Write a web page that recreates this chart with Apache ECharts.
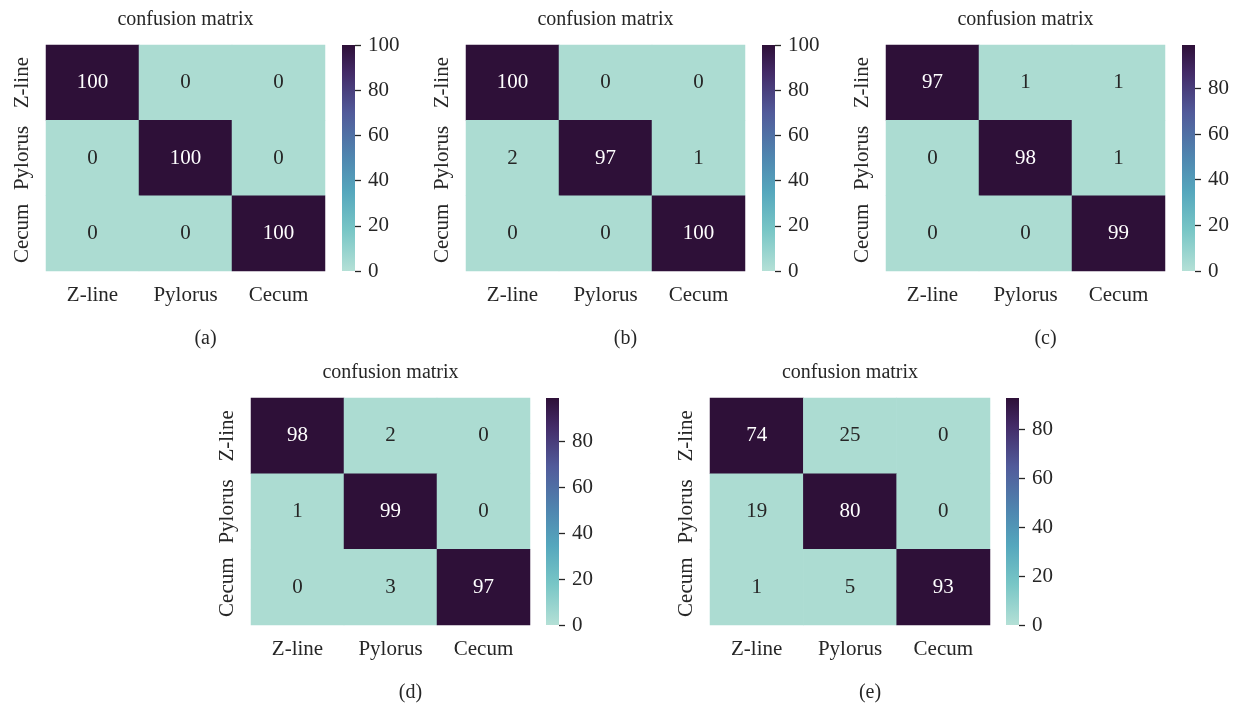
<!DOCTYPE html>
<html><head><meta charset="utf-8">
<script src="https://cdn.jsdelivr.net/npm/echarts@6/dist/echarts.min.js"></script>
<style>html,body{margin:0;padding:0;background:#fff}#c{width:1242px;height:703px}</style>
</head><body><div id="c"></div>
<script>
const categories = ['Z-line', 'Pylorus', 'Cecum'];
const panelLabels = ['(a)', '(b)', '(c)', '(d)', '(e)'];
const titleText = 'confusion matrix';
const colorbarTicks = [0, 20, 40, 60, 80, 100];
// rows = true class (top to bottom), columns = predicted
const matA = [[100, 0, 0], [0, 100, 0], [0, 0, 100]];
const matB = [[100, 0, 0], [2, 97, 1], [0, 0, 100]];
const matC = [[97, 1, 1], [0, 98, 1], [0, 0, 99]];
const matD = [[98, 2, 0], [1, 99, 0], [0, 3, 97]];
const matE = [[74, 25, 0], [19, 80, 0], [1, 5, 93]];
const colorbarMax = [100, 100, 99, 99, 93];

const mats = [matA, matB, matC, matD, matE];
// layout (pixels)
const L = [
  {x: 46, y: 45, w: 279, h: 226, cb: 342},
  {x: 466, y: 45, w: 279, h: 226, cb: 762},
  {x: 886, y: 45, w: 279, h: 226, cb: 1182},
  {x: 251, y: 398, w: 279, h: 227, cb: 546},
  {x: 710, y: 398, w: 280, h: 227, cb: 1006}
];
const DARK = '#2e1038', LIGHT = '#acdcd2';
const FONT = '"Liberation Serif", "DejaVu Serif", serif';
const TXT = '#262626';
const FS = 21;

const grid = [], xAxis = [], yAxis = [], series = [], title = [];
mats.forEach((m, i) => {
  const l = L[i];
  const gi = grid.length;
  grid.push({left: l.x, top: l.y, width: l.w, height: l.h});
  xAxis.push({type: 'category', gridIndex: gi, data: categories, position: 'bottom',
    axisLine: {show: false}, axisTick: {show: false}, splitLine: {show: false},
    axisLabel: {fontFamily: FONT, fontSize: FS, color: TXT, margin: 14, interval: 0, hideOverlap: false}});
  yAxis.push({type: 'category', gridIndex: gi, data: categories, inverse: true,
    axisLine: {show: false}, axisTick: {show: false}, splitLine: {show: false},
    axisLabel: {fontFamily: FONT, fontSize: FS, color: TXT, rotate: 90, margin: 13, interval: 0, hideOverlap: false}});
  const data = [];
  m.forEach((row, r) => row.forEach((v, c) => {
    const dark = v > 50;
    data.push({value: [c, r, v], itemStyle: {color: dark ? DARK : LIGHT},
      label: {color: dark ? '#ffffff' : TXT}});
  }));
  series.push({type: 'heatmap', xAxisIndex: gi, yAxisIndex: gi, data: data,
    label: {show: true, fontFamily: FONT, fontSize: FS, formatter: p => p.value[2]},
    emphasis: {disabled: true}, itemStyle: {borderWidth: 0}});
  // colorbar
  const ci = grid.length;
  grid.push({left: l.cb, top: l.y, width: 13, height: l.h});
  xAxis.push({type: 'category', gridIndex: ci, data: [''], show: false});
  const ticks = colorbarTicks.filter(t => t <= colorbarMax[i]);
  yAxis.push({type: 'value', gridIndex: ci, min: 0, max: colorbarMax[i], interval: 20, position: 'right',
    axisLine: {show: false}, splitLine: {show: false},
    axisTick: {show: true, length: 6, lineStyle: {color: TXT, width: 1.3}},
    axisLabel: {fontFamily: FONT, fontSize: FS, color: TXT, margin: 13,
      showMaxLabel: colorbarMax[i] % 20 === 0,
      formatter: v => ticks.includes(v) ? String(v) : ''}});
  series.push({type: 'bar', xAxisIndex: ci, yAxisIndex: ci, data: [colorbarMax[i]], barWidth: '100%',
    silent: true,
    itemStyle: {color: new echarts.graphic.LinearGradient(0, 0, 0, 1, [
      {offset: 0, color: '#2e1038'},
      {offset: 0.12, color: '#432a66'},
      {offset: 0.3, color: '#515a9a'},
      {offset: 0.5, color: '#4f87b0'},
      {offset: 0.65, color: '#55a7bd'},
      {offset: 0.82, color: '#78c6c6'},
      {offset: 1, color: '#b4e0d6'}])}});
  title.push({text: titleText, left: l.x + l.w / 2 - 5, top: l.y - 40, textAlign: 'center',
    textStyle: {fontFamily: FONT, fontSize: 20, fontWeight: 'normal', color: TXT}});
  title.push({text: panelLabels[i], left: l.x + l.w / 2 + 15, top: l.y + l.h + 53, textAlign: 'center',
    textStyle: {fontFamily: FONT, fontSize: 20, fontWeight: 'normal', color: TXT}});
});

const chart = echarts.init(document.getElementById('c'), null, {renderer: 'canvas'});
chart.setOption({animation: false, backgroundColor: '#fff', title, grid, xAxis, yAxis, series});
</script></body></html>
